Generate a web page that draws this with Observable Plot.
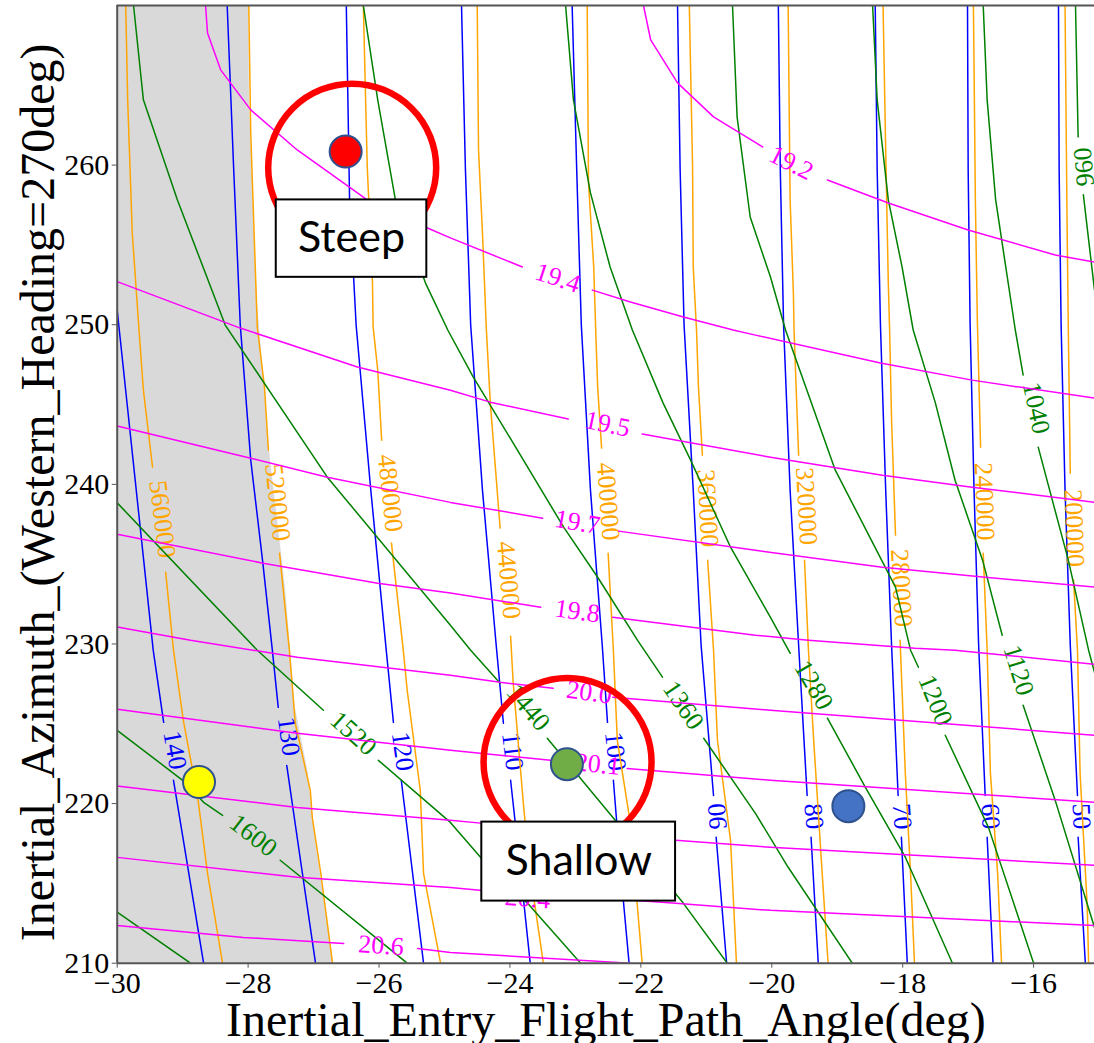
<!DOCTYPE html>
<html><head><meta charset="utf-8">
<script src="https://cdn.jsdelivr.net/npm/d3@7"></script>
<script src="https://cdn.jsdelivr.net/npm/@observablehq/plot@0.6"></script>
<style>html,body{margin:0;padding:0;background:#fff;overflow:hidden}</style>
</head><body><div id="chart"></div>
<script>
// ---- axis ticks ----
const xTicks = [-30, -28, -26, -24, -22, -20, -18, -16];
const yTicks = [210, 220, 230, 240, 250, 260];

// ---- gray infeasible region: right boundary [x, y] ----
const grayBoundary = [[-27.99,270],[-27.98,264.09],[-27.86,251.55],[-27.75,246.09],[-27.67,241.96],[-27.55,237.76],[-27.43,233.56],[-27.35,229.60],[-27.28,226.03],[-27.08,221.89],[-26.97,217.69],[-26.82,213.49],[-26.70,210]];

// ---- blue contours ----
const blueContours = [
 {text:"140", label:[-29.12,223.34,80], pts:[[-30.00,250.91],[-29.45,229.61],[-29.29,225.09],null,[-29.14,221.46],[-28.68,210]]},
 {text:"130", label:[-27.38,224.21,82], pts:[[-28.32,270],[-28.22,259.70],[-28.12,249.98],[-27.96,241.52],[-27.78,235.25],[-27.63,229.61],[-27.54,226.03],null,[-27.41,222.39],[-27.20,216.45],[-26.97,210]]},
 {text:"120", label:[-25.64,223.27,82], pts:[[-26.50,270],[-26.45,257.82],[-26.35,249.98],[-26.13,239.82],[-25.89,229.61],[-25.78,225.09],null,[-25.66,221.46],[-25.32,210]]},
 {text:"110", label:[-23.96,223.27,83], pts:[[-24.74,270],[-24.68,259.70],[-24.60,249.98],[-24.42,239.64],[-24.21,229.92],[-24.10,225.03],null,[-23.99,221.46],[-23.84,215.82],[-23.69,210]]},
 {text:"100", label:[-22.39,223.27,84], pts:[[-23.05,270],[-22.98,259.70],[-22.91,249.98],[-22.77,239.64],[-22.59,229.92],[-22.51,225.09],null,[-22.42,221.46],[-22.31,215.82],[-22.18,210]]},
 {text:"90", label:[-20.83,219.20,-94], pts:[[-21.44,270],[-21.40,259.70],[-21.34,249.98],[-21.20,239.64],[-21.08,229.92],[-20.89,220.51],null,[-20.85,217.89],[-20.69,210]]},
 {text:"80", label:[-19.36,219.20,85], pts:[[-19.90,270],[-19.87,259.70],[-19.82,249.98],[-19.72,239.64],[-19.59,229.92],[-19.46,220.51],null,[-19.40,217.89],[-19.29,210]]},
 {text:"70", label:[-18.01,219.20,86], pts:[[-18.42,270],[-18.39,259.70],[-18.34,249.98],[-18.26,239.64],[-18.17,229.92],[-18.07,220.51],null,[-18.02,217.89],[-17.93,210]]},
 {text:"60", label:[-16.66,219.20,87], pts:[[-17.01,270],[-17.00,259.70],[-16.97,249.98],[-16.91,239.64],[-16.84,229.92],[-16.74,220.51],null,[-16.71,217.89],[-16.62,210]]},
 {text:"50", label:[-15.27,219.20,87], pts:[[-15.62,270],[-15.61,259.70],[-15.58,249.98],[-15.52,239.64],[-15.44,229.92],[-15.33,220.51],null,[-15.32,217.89],[-15.21,210]]}
];

// ---- orange contours ----
const orangeContours = [
 {text:"560000", label:[-29.31,237.82,83], pts:[[-29.87,270],[-29.84,264.09],[-29.77,255.75],[-29.67,249.86],[-29.60,245.90],[-29.46,241.08],null,[-29.26,234.50],[-29.14,229.61],[-28.99,225.22],[-28.77,220.39],[-28.62,215.63],[-28.39,210]]},
 {text:"520000", label:[-27.55,238.87,84], pts:[[-27.99,270],[-27.96,262.02],[-27.86,249.86],[-27.75,246.09],[-27.69,242.14],null,[-27.52,235.69],[-27.37,229.61],[-27.28,225.03],[-27.05,220.83],[-27.02,219.14],[-26.89,215.63],[-26.71,210]]},
 {text:"480000", label:[-25.83,239.45,84], pts:[[-26.24,270],[-26.18,259.89],[-26.10,252.61],[-26.09,249.86],[-26.02,247.16],[-25.96,242.77],null,[-25.81,236.32],[-25.63,229.61],[-25.57,227.10],[-25.37,220.83],[-25.32,215.63],[-25.06,210]]},
 {text:"440000", label:[-24.02,234.00,85], pts:[[-24.50,270],[-24.48,260.95],[-24.42,255.75],[-24.36,249.67],[-24.30,245.09],[-24.15,237.26],null,[-23.99,230.48],[-23.95,227.54],[-23.79,219.76],[-23.69,215.63],[-23.49,210]]},
 {text:"400000", label:[-22.50,238.93,86], pts:[[-22.82,270],[-22.80,258.89],[-22.72,253.62],[-22.69,249.67],[-22.66,246.09],[-22.60,242.27],null,[-22.50,235.69],[-22.42,229.61],[-22.36,223.96],[-22.16,218.76],[-21.98,210]]},
 {text:"360000", label:[-20.98,238.50,87], pts:[[-21.26,270],[-21.21,259.89],[-21.20,253.62],[-21.15,249.67],[-21.12,246.09],[-21.06,241.83],null,[-20.98,235.25],[-20.89,229.61],[-20.83,223.96],[-20.63,217.70],[-20.54,210]]},
 {text:"320000", label:[-19.47,238.63,87], pts:[[-19.75,270],[-19.72,257.82],[-19.67,251.99],[-19.66,249.67],[-19.61,244.02],[-19.59,241.83],null,[-19.50,235.25],[-19.44,229.61],[-19.36,223.96],[-19.23,215.63],[-19.14,210]]},
 {text:"280000", label:[-18.02,233.50,87], pts:[[-18.30,270],[-18.26,260.95],[-18.22,252.61],[-18.20,249.67],[-18.17,244.02],[-18.11,236.82],null,[-18.04,230.23],[-17.96,221.89],[-17.88,215.63],[-17.82,210]]},
 {text:"240000", label:[-16.75,238.93,88], pts:[[-16.92,270],[-16.91,266.15],[-16.89,257.82],[-16.86,250.29],[-16.81,242.33],null,[-16.77,235.69],[-16.71,229.61],[-16.66,221.89],[-16.55,215.63],[-16.49,210]]},
 {text:"200000", label:[-15.38,237.26,88], pts:[[-15.52,270],[-15.49,256.75],[-15.47,249.67],[-15.44,240.70],null,[-15.39,234.00],[-15.33,229.61],[-15.29,221.89],[-15.18,213.49],[-15.16,210]]}
];

// ---- green contours ----
const greenContours = [
 {text:"1680", label:null, pts:[[-30.00,213.20],[-28.88,210]]},
 {text:"1600", label:[-27.92,218.01,38], pts:[[-30.00,224.59],[-29.00,221.46],[-28.68,220.08],[-28.39,219.26],null,[-27.51,216.45],[-25.57,210]]},
 {text:"1520", label:[-26.39,224.40,42], pts:[[-30.00,238.84],[-27.86,229.61],[-26.85,225.85],null,[-26.01,222.71],[-24.91,218.82],[-24.41,216.45],[-23.73,213.75],[-22.92,210]]},
 {text:"1440", label:[-23.72,226.03,50], pts:[[-29.75,270],[-29.60,264.09],[-29.08,257.82],[-28.35,249.98],[-26.79,240.45],[-24.91,231.17],[-24.60,229.61],[-24.15,227.54],null,[-23.43,224.09],[-22.43,219.14],[-21.35,213.75],[-20.68,210]]},
 {text:"1360", label:[-21.35,226.16,56], pts:[[-26.24,270],[-26.02,264.09],[-25.75,257.82],[-25.29,252.61],[-24.95,249.67],[-24.56,246.72],[-23.95,242.58],[-23.18,237.32],[-22.66,234.18],[-22.05,230.23],[-21.67,227.92],null,[-21.04,224.09],[-20.25,219.39],[-19.75,216.01],[-18.77,210]]},
 {text:"1280", label:[-19.36,227.42,60], pts:[[-23.15,270],[-23.03,264.09],[-22.77,258.26],[-22.47,253.62],[-22.13,249.67],[-21.66,245.09],[-21.24,241.52],[-20.63,236.06],[-20.02,231.67],[-19.72,229.42],null,[-19.15,225.35],[-18.57,221.02],[-17.96,216.64],[-17.24,210]]},
 {text:"1200", label:[-17.50,226.47,68], pts:[[-20.60,270],[-20.53,263.02],[-20.33,256.75],[-20.02,252.99],[-19.79,249.67],[-19.03,240.89],[-18.11,233.56],[-17.88,229.61],[-17.76,228.54],null,[-17.35,224.28],[-16.69,218.51],[-16.00,210]]},
 {text:"1120", label:[-16.23,228.35,73], pts:[[-18.46,270],[-18.39,264.09],[-18.22,257.82],[-18.01,253.62],[-17.84,249.67],[-17.50,245.09],[-17.20,240.26],[-16.78,235.25],[-16.48,230.55],null,[-16.16,226.16],[-15.67,220.20],[-15.07,212.24]]},
 {text:"1040", label:[-15.96,244.78,78], pts:[[-16.77,270],[-16.71,264.09],[-16.58,257.82],[-16.28,249.67],[-16.16,246.85],null,[-15.93,242.33],[-15.47,235.25],[-15.16,229.61],[-15.07,228.22]]},
 {text:"960", label:[-15.23,259.89,-95], pts:[[-15.36,270],[-15.32,261.77],null,[-15.24,258.14],[-15.07,252.17]]}
];

// ---- magenta contours ----
const magentaContours = [
 {text:"19.2", label:[-19.70,260.14,27], pts:[[-21.96,270],[-21.85,267.84],[-21.44,265.15],[-20.89,263.02],[-20.14,261.14],null,[-19.15,259.07],[-18.22,257.63],[-17.00,255.94],[-15.67,254.37],[-15.07,253.93]]},
 {text:"19.4", label:[-23.27,252.93,18], pts:[[-28.65,270],[-28.62,268.28],[-28.42,265.97],[-27.96,263.46],[-27.25,260.95],[-26.18,257.82],[-25.26,256.06],[-24.91,255.44],[-23.81,253.62],null,[-22.74,252.17],[-22.16,251.42],[-21.35,250.48],[-20.59,249.67],[-20.25,249.35],[-18.34,247.60],[-16.94,246.53],[-15.07,245.40]]},
 {text:"19.5", label:[-22.51,243.77,12], pts:[[-30.00,252.70],[-28.12,249.79],[-26.33,247.35],[-24.91,245.90],[-24.30,245.15],[-23.11,244.09],null,[-21.98,243.15],[-20.02,241.70],[-18.31,240.57],[-16.94,239.82],[-15.07,238.88]]},
 {text:"19.7", label:[-22.97,237.63,10], pts:[[-30.00,243.65],[-27.96,241.64],[-26.79,240.45],[-24.91,238.87],[-23.50,237.88],null,[-22.34,237.07],[-20.25,235.87],[-18.31,234.81],[-16.74,234.18],[-15.07,233.56]]},
 {text:"19.8", label:[-22.97,232.05,8], pts:[[-30.00,236.88],[-27.77,235.06],[-26.02,233.81],[-24.91,233.19],[-23.53,232.30],null,[-22.43,231.67],[-20.25,230.55],[-19.44,230.23],[-17.81,229.73],[-17.20,229.61],[-15.07,228.73]]},
 {text:"20.0", label:[-22.79,226.97,8], pts:[[-30.00,231.07],[-28.88,230.23],[-27.25,229.17],[-24.91,228.04],[-24.15,227.60],[-23.34,227.22],null,[-22.43,226.66],[-20.02,225.85],[-15.07,224.28]]},
 {text:"20.1", label:[-22.66,222.46,6], pts:[[-30.00,225.91],[-27.25,224.40],[-24.91,223.34],[-23.38,222.71],null,[-22.21,222.20],[-20.02,221.46],[-15.07,220.08]]},
 {text:"20.2", label:null, pts:[[-30.00,221.10],[-27.25,219.76],[-24.91,218.95],[-24.41,218.76],[-21.47,217.70],[-20.02,217.26],[-15.07,216.13]]},
 {text:"20.4", label:[-23.73,214.06,4], pts:[[-30.00,216.63],[-27.25,215.38],[-24.91,214.75],[-24.42,214.56],[-24.15,214.50],null,[-23.31,214.31],[-21.47,213.75],[-20.02,213.31],[-15.07,212.36]]},
 {text:"20.6", label:[-25.97,211.11,4], pts:[[-30.00,212.36],[-28.07,211.61],[-26.54,211.24],null,[-25.41,210.92],[-24.91,210.67],[-22.16,210]]}
];

// ---- trajectory markers ----
const markerNames = ["steep", "yellow", "shallow", "blue"];
const markerX = [-26.51, -28.75, -23.13, -18.83];
const markerY = [260.85, 221.35, 222.47, 219.84];
const markerFill = ["#ff0000", "#ffff00", "#70ad47", "#4472c4"];

// ---- annotation rings and boxes ----
const ringX = [-26.41, -23.12];
const ringY = [259.84, 222.60];
const boxText = ["Steep", "Shallow"];
const boxX1 = [-27.57, -24.43];
const boxX2 = [-25.27, -21.47];
const boxY1 = [252.97, 213.89];
const boxY2 = [257.82, 218.84];

function flatten(cs) {
  return cs.flatMap(c => c.pts.map(p => p ? {level: c.text, x: p[0], y: p[1]} : {level: c.text, x: NaN, y: NaN}));
}
function lineMarks(cs, color) {
  return [
    Plot.line(flatten(cs), {x: "x", y: "y", z: "level", stroke: color, strokeWidth: 1.5, clip: true}),
    Plot.text(cs.filter(c => c.label), {x: c => c.label[0], y: c => c.label[1], rotate: c => c.label[2], text: "text",
      fill: color, fontSize: 26, fontFamily: "'Liberation Serif', 'Times New Roman', serif", textAnchor: "middle", lineAnchor: "middle"})
  ];
}

const markers = markerNames.map((n, i) => ({n, x: markerX[i], y: markerY[i], fill: markerFill[i]}));
const rings = ringX.map((x, i) => ({x, y: ringY[i]}));
const boxes = boxText.map((t, i) => ({t, x1: boxX1[i], x2: boxX2[i], y1: boxY1[i], y2: boxY2[i]}));

const chart = Plot.plot({
  width: 1094, height: 1043,
  marginLeft: 116.7, marginRight: 0, marginTop: 5, marginBottom: 80.3,
  x: {domain: [-30, -15.07]},
  y: {domain: [210, 270]},
  style: {fontFamily: "'Liberation Serif', 'Times New Roman', serif", fontSize: "30px", color: "#000", background: "#fff"},
  marks: [
    Plot.areaX(grayBoundary, {x1: -30, x2: d => d[0], y: d => d[1], fill: "#d9d9d9"}),
    ...lineMarks(blueContours, "#0000ff"),
    ...lineMarks(orangeContours, "#ffa500"),
    ...lineMarks(greenContours, "#008000"),
    ...lineMarks(magentaContours, "#ff00ff"),
    Plot.dot(rings, {x: "x", y: "y", r: 84, stroke: "#ff0000", strokeWidth: 6.5, fill: "none"}),
    Plot.dot(markers, {x: "x", y: "y", r: 16, fill: "fill", stroke: "#2f528f", strokeWidth: 2}),
    Plot.rect(boxes, {x1: "x1", x2: "x2", y1: "y1", y2: "y2", fill: "#fff", stroke: "#000", strokeWidth: 2}),
    Plot.text(boxes, {x: d => (d.x1 + d.x2) / 2, y: d => (d.y1 + d.y2) / 2, text: "t", fontSize: 43, fontFamily: "Lato, 'Open Sans', sans-serif", fill: "#000", lineAnchor: "middle"}),
    Plot.ruleX([-30], {stroke: "#555", strokeWidth: 2}),
    Plot.ruleY([210, 270], {stroke: "#555", strokeWidth: 2}),
    Plot.axisX({ticks: xTicks, tickSize: 5, tickPadding: 3, fontSize: 30, label: null, stroke: "#555"}),
    Plot.axisY({ticks: yTicks, tickSize: 5, tickPadding: 3, fontSize: 30, label: null, stroke: "#555"}),
    Plot.text(["Inertial_Entry_Flight_Path_Angle(deg)"], {frameAnchor: "bottom", dy: 57, fontSize: 48, textAnchor: "middle", lineAnchor: "middle", fill: "#000"}),
    Plot.text(["Inertial_Azimuth_(Western_Heading=270deg)"], {frameAnchor: "left", rotate: -90, dx: -79, dy: 8, fontSize: 48, textAnchor: "middle", lineAnchor: "middle", fill: "#000"})
  ]
});
document.getElementById("chart").appendChild(chart);
</script>
</body></html>
